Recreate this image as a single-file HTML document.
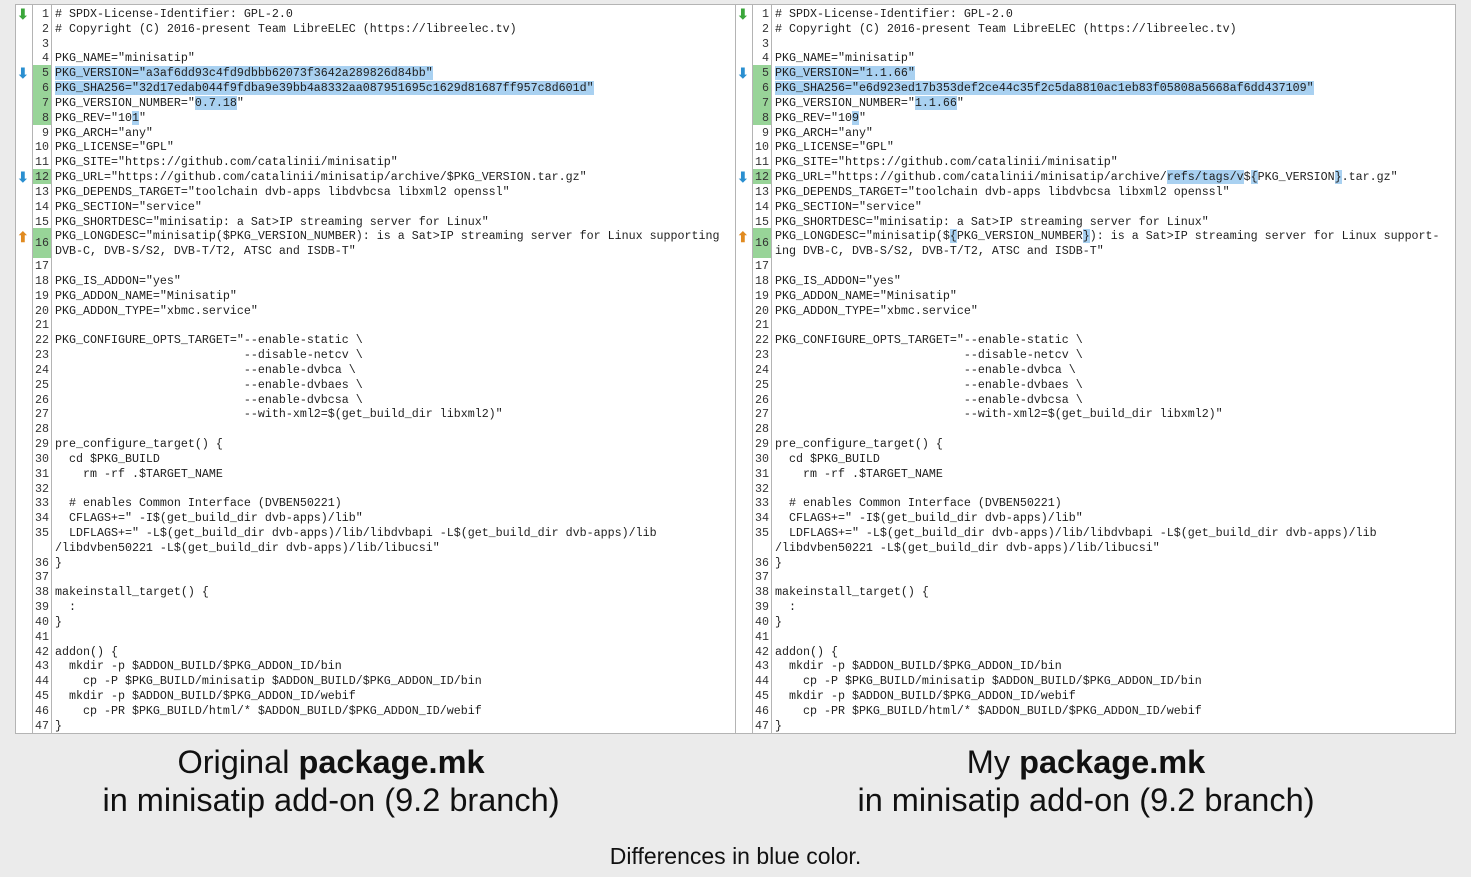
<!DOCTYPE html>
<html><head><meta charset="utf-8"><style>
body{margin:0;width:1471px;height:877px;background:#ebebeb;position:relative;overflow:hidden;font-family:"Liberation Sans",sans-serif}
.panel{position:absolute;top:4px;width:719px;height:728px;background:#fff;border:1px solid #b4b4b4}
.ic{position:absolute;left:0;top:0;width:16px;height:728px;border-right:1px solid #b4b4b4;background:#fff}
.nc{position:absolute;left:17px;top:0;width:18px;height:728px;border-right:1px solid #b4b4b4}
.g{position:absolute;left:17px;width:18px;background:#98d498}
pre{margin:0;position:absolute;top:2px;font-family:"Liberation Mono",monospace;font-size:11.67px;line-height:14.83px;color:#1e1e1e}
.num{left:17px;width:16px;text-align:right;color:#333}
.code{left:39px}
.h{background:#a9d1f1}
.ar{position:absolute;left:1px;font-size:14px;line-height:14px;font-weight:bold}
.cap{position:absolute;text-align:center;font-size:32.5px;line-height:38px;color:#111;width:800px}
</style></head><body>

<div class="panel" style="left:15px">
<div class="ic"></div><div class="nc"></div>
<div class="g" style="top:60px;height:60px"></div>
<div class="g" style="top:164px;height:15px"></div>
<div class="g" style="top:223px;height:30px"></div>
<div class="ar" style="top:2px;color:#3aa63a">&#11015;</div>
<div class="ar" style="top:61px;color:#2a8fd0">&#11015;</div>
<div class="ar" style="top:165px;color:#2a8fd0">&#11015;</div>
<div class="ar" style="top:225px;color:#e08a20">&#11014;</div>
<pre class="num">1
2
3
4
5
6
7
8
9
10
11
12
13
14
15
<span style="position:relative;top:7px">16</span>

17
18
19
20
21
22
23
24
25
26
27
28
29
30
31
32
33
34
35

36
37
38
39
40
41
42
43
44
45
46
47</pre>
<pre class="code"># SPDX-License-Identifier: GPL-2.0
# Copyright (C) 2016-present Team LibreELEC (https://libreelec.tv)

PKG_NAME="minisatip"
<span class="h">PKG_VERSION="a3af6dd93c4fd9dbbb62073f3642a289826d84bb"</span>
<span class="h">PKG_SHA256="32d17edab044f9fdba9e39bb4a8332aa087951695c1629d81687ff957c8d601d"</span>
PKG_VERSION_NUMBER="<span class="h">0.7.18</span>"
PKG_REV="10<span class="h">1</span>"
PKG_ARCH="any"
PKG_LICENSE="GPL"
PKG_SITE="https://github.com/catalinii/minisatip"
PKG_URL="https://github.com/catalinii/minisatip/archive/$PKG_VERSION.tar.gz"
PKG_DEPENDS_TARGET="toolchain dvb-apps libdvbcsa libxml2 openssl"
PKG_SECTION="service"
PKG_SHORTDESC="minisatip: a Sat&gt;IP streaming server for Linux"
PKG_LONGDESC="minisatip($PKG_VERSION_NUMBER): is a Sat&gt;IP streaming server for Linux supporting
DVB-C, DVB-S/S2, DVB-T/T2, ATSC and ISDB-T"

PKG_IS_ADDON="yes"
PKG_ADDON_NAME="Minisatip"
PKG_ADDON_TYPE="xbmc.service"

PKG_CONFIGURE_OPTS_TARGET="--enable-static \
                           --disable-netcv \
                           --enable-dvbca \
                           --enable-dvbaes \
                           --enable-dvbcsa \
                           --with-xml2=$(get_build_dir libxml2)"

pre_configure_target() {
  cd $PKG_BUILD
    rm -rf .$TARGET_NAME

  # enables Common Interface (DVBEN50221)
  CFLAGS+=" -I$(get_build_dir dvb-apps)/lib"
  LDFLAGS+=" -L$(get_build_dir dvb-apps)/lib/libdvbapi -L$(get_build_dir dvb-apps)/lib
/libdvben50221 -L$(get_build_dir dvb-apps)/lib/libucsi"
}

makeinstall_target() {
  :
}

addon() {
  mkdir -p $ADDON_BUILD/$PKG_ADDON_ID/bin
    cp -P $PKG_BUILD/minisatip $ADDON_BUILD/$PKG_ADDON_ID/bin
  mkdir -p $ADDON_BUILD/$PKG_ADDON_ID/webif
    cp -PR $PKG_BUILD/html/* $ADDON_BUILD/$PKG_ADDON_ID/webif
}</pre>
</div>

<div class="panel" style="left:735px">
<div class="ic"></div><div class="nc"></div>
<div class="g" style="top:60px;height:60px"></div>
<div class="g" style="top:164px;height:15px"></div>
<div class="g" style="top:223px;height:30px"></div>
<div class="ar" style="top:2px;color:#3aa63a">&#11015;</div>
<div class="ar" style="top:61px;color:#2a8fd0">&#11015;</div>
<div class="ar" style="top:165px;color:#2a8fd0">&#11015;</div>
<div class="ar" style="top:225px;color:#e08a20">&#11014;</div>
<pre class="num">1
2
3
4
5
6
7
8
9
10
11
12
13
14
15
<span style="position:relative;top:7px">16</span>

17
18
19
20
21
22
23
24
25
26
27
28
29
30
31
32
33
34
35

36
37
38
39
40
41
42
43
44
45
46
47</pre>
<pre class="code"># SPDX-License-Identifier: GPL-2.0
# Copyright (C) 2016-present Team LibreELEC (https://libreelec.tv)

PKG_NAME="minisatip"
<span class="h">PKG_VERSION="1.1.66"</span>
<span class="h">PKG_SHA256="e6d923ed17b353def2ce44c35f2c5da8810ac1eb83f05808a5668af6dd437109"</span>
PKG_VERSION_NUMBER="<span class="h">1.1.66</span>"
PKG_REV="10<span class="h">9</span>"
PKG_ARCH="any"
PKG_LICENSE="GPL"
PKG_SITE="https://github.com/catalinii/minisatip"
PKG_URL="https://github.com/catalinii/minisatip/archive/<span class="h">refs/tags/v</span>$<span class="h">{</span>PKG_VERSION<span class="h">}</span>.tar.gz"
PKG_DEPENDS_TARGET="toolchain dvb-apps libdvbcsa libxml2 openssl"
PKG_SECTION="service"
PKG_SHORTDESC="minisatip: a Sat&gt;IP streaming server for Linux"
PKG_LONGDESC="minisatip($<span class="h">{</span>PKG_VERSION_NUMBER<span class="h">}</span>): is a Sat&gt;IP streaming server for Linux support-
ing DVB-C, DVB-S/S2, DVB-T/T2, ATSC and ISDB-T"

PKG_IS_ADDON="yes"
PKG_ADDON_NAME="Minisatip"
PKG_ADDON_TYPE="xbmc.service"

PKG_CONFIGURE_OPTS_TARGET="--enable-static \
                           --disable-netcv \
                           --enable-dvbca \
                           --enable-dvbaes \
                           --enable-dvbcsa \
                           --with-xml2=$(get_build_dir libxml2)"

pre_configure_target() {
  cd $PKG_BUILD
    rm -rf .$TARGET_NAME

  # enables Common Interface (DVBEN50221)
  CFLAGS+=" -I$(get_build_dir dvb-apps)/lib"
  LDFLAGS+=" -L$(get_build_dir dvb-apps)/lib/libdvbapi -L$(get_build_dir dvb-apps)/lib
/libdvben50221 -L$(get_build_dir dvb-apps)/lib/libucsi"
}

makeinstall_target() {
  :
}

addon() {
  mkdir -p $ADDON_BUILD/$PKG_ADDON_ID/bin
    cp -P $PKG_BUILD/minisatip $ADDON_BUILD/$PKG_ADDON_ID/bin
  mkdir -p $ADDON_BUILD/$PKG_ADDON_ID/webif
    cp -PR $PKG_BUILD/html/* $ADDON_BUILD/$PKG_ADDON_ID/webif
}</pre>
</div>

<div class="cap" style="left:-69px;top:743px">Original <b>package.mk</b><br>in minisatip add-on (9.2 branch)</div>
<div class="cap" style="left:686px;top:743px">My <b>package.mk</b><br>in minisatip add-on (9.2 branch)</div>
<div style="position:absolute;left:0;width:1471px;top:843px;text-align:center;font-size:23px;color:#111">Differences in blue color.</div>
</body></html>
